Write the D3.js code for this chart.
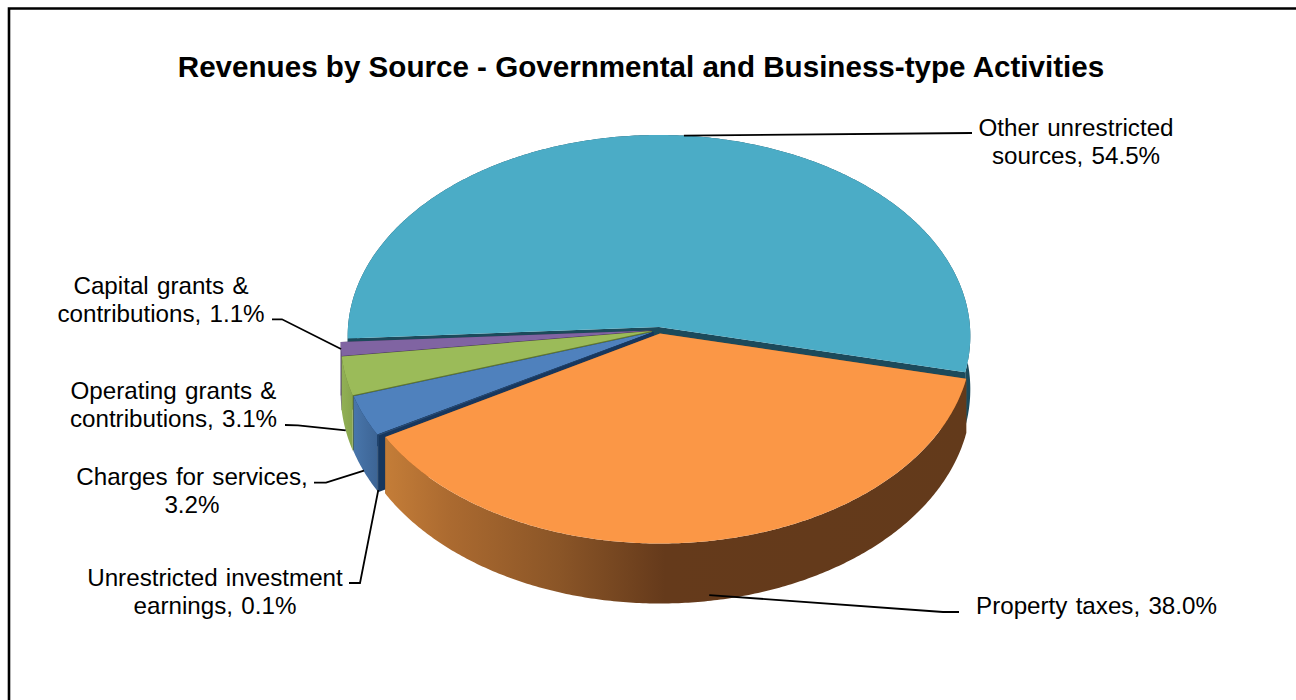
<!DOCTYPE html>
<html>
<head>
<meta charset="utf-8">
<script src="https://cdn.jsdelivr.net/npm/d3@7"></script>
<style>
  html, body { margin: 0; padding: 0; background: #fff; }
  svg { display: block; }
  text { font-family: "Liberation Sans", Arial, sans-serif; fill: #000; }
</style>
</head>
<body>
<div id="chart"></div>
<script>
// Revenue shares, in clockwise drawing order starting from the right-hand edge
const categories = [
  "Property taxes",
  "Unrestricted investment earnings",
  "Charges for services",
  "Operating grants & contributions",
  "Capital grants & contributions",
  "Other unrestricted sources"
];
const shares = [38.0, 0.1, 3.2, 3.1, 1.1, 54.5];
const topColors = ["#fb9746", "#2c4d75", "#4f81bd", "#9bbb59", "#8064a2", "#4bacc6"];
const cutColors = ["#8a5526", "#17375e", "#17375e", "#5f7530", "#403152", "#1c4a5b"];
const labelLines = [
  ["Property taxes, 38.0%"],
  ["Unrestricted investment", "earnings, 0.1%"],
  ["Charges for services,", "3.2%"],
  ["Operating grants &", "contributions, 3.1%"],
  ["Capital grants &", "contributions, 1.1%"],
  ["Other unrestricted", "sources, 54.5%"]
];
const title = "Revenues by Source - Governmental and Business-type Activities";

// Pie layout and 3D projection settings
const width = 1296, height = 700;
const rx = 311, persp = 0.0448, ryBase = 200.6;
const center = { x: 659, y: 327 };
const explode = [[1, 6.5], [-5.5, 5], [-6, 5], [-7, 4], [-7, 3.5], [0, 0]];
const startDeg = 102.9;

// Leader elbow and label placement for each slice
const labelPlace = [
  { x: 1096.5, y: 613.5, elbow: [[943, 612], [959, 612]] },
  { x: 215, y: 585.5, elbow: [[360, 583], [349, 583]] },
  { x: 192, y: 484.5, elbow: [[326, 482.7], [314, 482.7]] },
  { x: 173.5, y: 398.5, elbow: [[298, 425.3], [285, 425]] },
  { x: 161, y: 293.5, elbow: [[282, 319.3], [272, 319.3]] },
  { x: 1076, y: 135.5, elbow: [[972, 133]] }
];

const svg = d3.select("#chart").append("svg")
  .attr("width", width).attr("height", height)
  .attr("viewBox", [0, 0, width, height]);

const defs = svg.append("defs");

function wallGradient(id, stops) {
  const g = defs.append("linearGradient").attr("id", id)
    .attr("gradientUnits", "userSpaceOnUse")
    .attr("x1", stops[0][0]).attr("x2", stops[stops.length - 1][0])
    .attr("y1", 0).attr("y2", 0);
  const x0 = stops[0][0], span = stops[stops.length - 1][0] - x0;
  stops.forEach(([x, c]) => g.append("stop").attr("offset", (x - x0) / span).attr("stop-color", c));
}
wallGradient("wall-0", [[385, "#c47d38"], [450, "#ab6a30"], [560, "#8a5527"], [665, "#653a1b"], [970, "#633a1b"]]);
wallGradient("wall-1", [[370, "#23466f"], [390, "#23466f"]]);
wallGradient("wall-2", [[350, "#4a78ae"], [385, "#395f8e"]]);
wallGradient("wall-3", [[340, "#93b256"], [360, "#819d48"]]);
wallGradient("wall-4", [[335, "#705890"], [350, "#665080"]]);
wallGradient("wall-5", [[340, "#1c4a5b"], [975, "#1c4a5b"]]);

// Frame is open on the right and at the bottom
svg.append("path")
  .attr("d", d3.line()([[width, 8.5], [9, 8.5], [9, height]]))
  .attr("fill", "none").attr("stroke", "#000").attr("stroke-width", 2.6);

svg.append("text")
  .attr("x", 641).attr("y", 77)
  .attr("text-anchor", "middle")
  .attr("font-size", 29.6).attr("font-weight", "bold")
  .text(title);

const pie = d3.pie().sort(null).value(d => d)
  .startAngle(startDeg * Math.PI / 180)
  .endAngle((startDeg + 360) * Math.PI / 180);
const arcs = pie(shares);

const depthAt = s => 53 + 7 * s;

// d3.pie angles run clockwise from twelve o'clock; lift them onto the tilted disc
function project(angle, i, lower) {
  const s = -Math.cos(angle), c = Math.sin(angle);
  const k = 1 / (1 - persp * s);
  const [ox, oy] = explode[i];
  return [
    center.x + ox + rx * c * k,
    center.y + oy + ryBase * s * k + (lower ? depthAt(s) : 0)
  ];
}

const apex = (i, lower) => [
  center.x + explode[i][0],
  center.y + explode[i][1] + (lower ? depthAt(0) : 0)
];

function rimAngles(a) {
  const n = Math.max(2, Math.ceil((a.endAngle - a.startAngle) / 0.01));
  return d3.range(n + 1).map(j => a.startAngle + (a.endAngle - a.startAngle) * j / n);
}

const line = d3.line().curve(d3.curveLinear);
// Back to front: the large rear slice first, the front slice last
const order = [5, 4, 3, 2, 1, 0];
const gPie = svg.append("g");

order.forEach(i => {
  const a = arcs[i];
  const g = gPie.append("g").attr("class", "slice");
  const rim = rimAngles(a);
  // cut faces along both radii sit behind the wall
  [a.startAngle, a.endAngle].forEach(t => {
    g.append("path")
      .attr("d", line([apex(i, false), project(t, i, false), project(t, i, true), apex(i, true)]) + "Z")
      .attr("fill", cutColors[i]);
  });
  // outer wall
  g.append("path")
    .attr("d", line(rim.map(t => project(t, i, false))
      .concat(rim.slice().reverse().map(t => project(t, i, true)))) + "Z")
    .attr("fill", `url(#wall-${i})`);
  // top face
  g.append("path")
    .attr("d", line([apex(i, false)].concat(rim.map(t => project(t, i, false)))) + "Z")
    .attr("fill", topColors[i]);
});

// Leaders start at the rim at each slice's middle angle, a little inside the front edge
const gLeaders = svg.append("g");
arcs.forEach((a, i) => {
  const mid = (a.startAngle + a.endAngle) / 2;
  const s = -Math.cos(mid);
  const [ax, ay] = project(mid, i, s > 0.1);
  const anchor = [ax, ay - (s > 0.1 ? 6 * s * s : 0)];
  gLeaders.append("path")
    .attr("d", line([anchor].concat(labelPlace[i].elbow)))
    .attr("fill", "none").attr("stroke", "#000").attr("stroke-width", 1.8);
});

const gLabels = svg.append("g");
labelLines.forEach((lines, i) => {
  lines.forEach((t, j) => {
    gLabels.append("text")
      .attr("x", labelPlace[i].x).attr("y", labelPlace[i].y + j * 28)
      .attr("text-anchor", "middle")
      .attr("font-size", 24.2)
      .attr("word-spacing", 1.5)
      .text(t);
  });
});
</script>
</body>
</html>
